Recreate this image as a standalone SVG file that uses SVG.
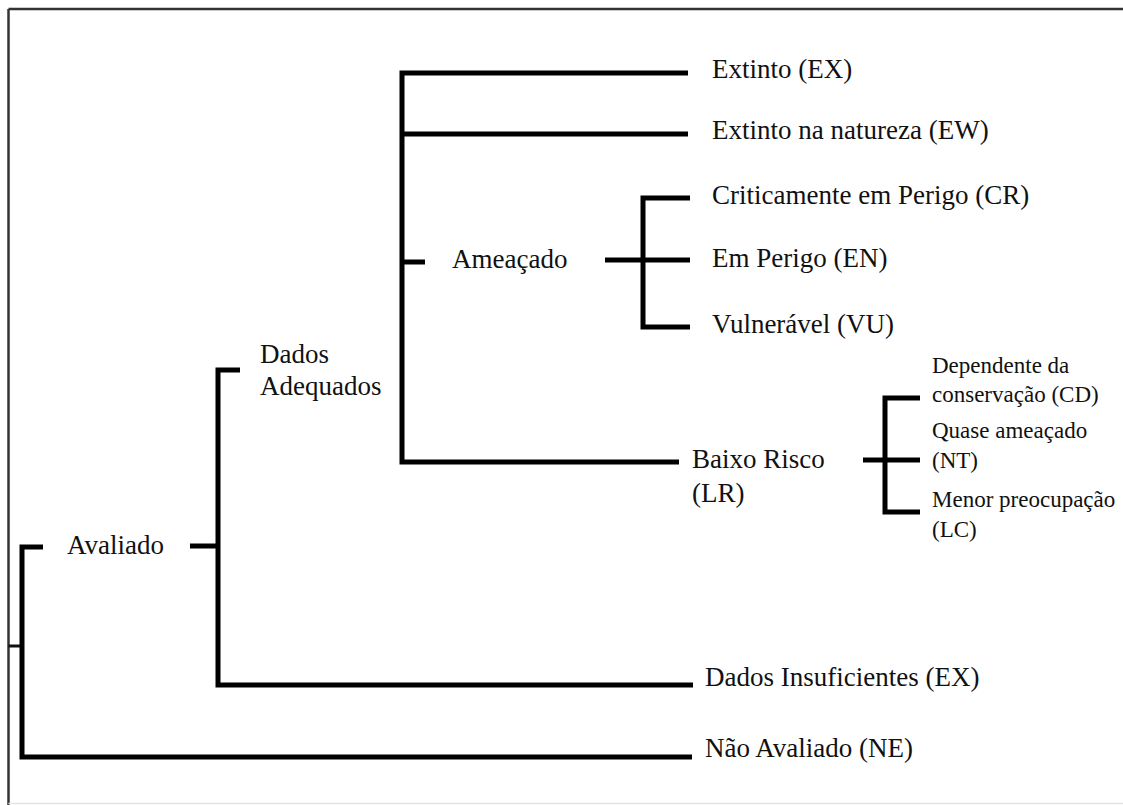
<svg xmlns="http://www.w3.org/2000/svg" width="1123" height="805" viewBox="0 0 1123 805">
<style>
  .t { font-family: "Liberation Serif", "Times New Roman", serif; font-size: 27px; fill: #111; }
  .s { font-family: "Liberation Serif", "Times New Roman", serif; font-size: 23px; fill: #111; }
  .c { fill: none; stroke: #000; stroke-width: 5; stroke-linecap: butt; stroke-linejoin: miter; }
  .thin { fill: none; stroke: #111; stroke-width: 3; }
</style>
<rect width="1123" height="805" fill="#fff"/>
<g id="frame">
  <line x1="8.5" y1="9" x2="1123" y2="9" stroke="#333" stroke-width="2.5"/>
  <line x1="8.5" y1="9" x2="8.5" y2="805" stroke="#333" stroke-width="2.5"/>
  <line x1="8.5" y1="803.5" x2="1123" y2="803.5" stroke="#e4e4e4" stroke-width="1.5"/>
</g>
<g id="connectors">
  <path class="thin" d="M8.5,646 H22"/>
  <path class="c" d="M43,547 H22 V757 H692"/>
  <path class="c" d="M190,546 H218"/>
  <path class="c" d="M240,370 H218 V685 H693"/>
  <path class="c" d="M688,73 H402 V462 H679"/>
  <path class="c" d="M402,134 H688"/>
  <path class="c" d="M402,262 H425"/>
  <path class="c" d="M690,198 H643 V327 H690"/>
  <path class="c" d="M605,260 H690"/>
  <path class="c" d="M920,398 H885 V512 H920"/>
  <path class="c" d="M863,460 H920"/>
</g>
<g id="avaliado"><text class="t" x="67" y="554">Avaliado</text></g>
<g id="nao-avaliado"><text class="t" x="705" y="757">Não Avaliado (NE)</text></g>
<g id="dados-adequados"><text class="t" x="260" y="363">Dados</text><text class="t" x="260" y="395">Adequados</text></g>
<g id="dados-insuficientes"><text class="t" x="705" y="686">Dados Insuficientes (EX)</text></g>
<g id="extinto"><text class="t" x="712" y="78">Extinto (EX)</text></g>
<g id="extinto-natureza"><text class="t" x="712" y="139">Extinto na natureza (EW)</text></g>
<g id="ameacado"><text class="t" x="452" y="268">Ameaçado</text></g>
<g id="cr"><text class="t" x="712" y="204">Criticamente em Perigo (CR)</text></g>
<g id="en"><text class="t" x="712" y="267">Em Perigo (EN)</text></g>
<g id="vu"><text class="t" x="712" y="333">Vulnerável (VU)</text></g>
<g id="baixo-risco"><text class="t" x="692" y="468">Baixo Risco</text><text class="t" x="692" y="502">(LR)</text></g>
<g id="cd"><text class="s" x="932" y="373">Dependente da</text><text class="s" x="932" y="402">conservação (CD)</text></g>
<g id="nt"><text class="s" x="932" y="438">Quase ameaçado</text><text class="s" x="932" y="468">(NT)</text></g>
<g id="lc"><text class="s" x="932" y="507">Menor preocupação</text><text class="s" x="932" y="537">(LC)</text></g>
</svg>
